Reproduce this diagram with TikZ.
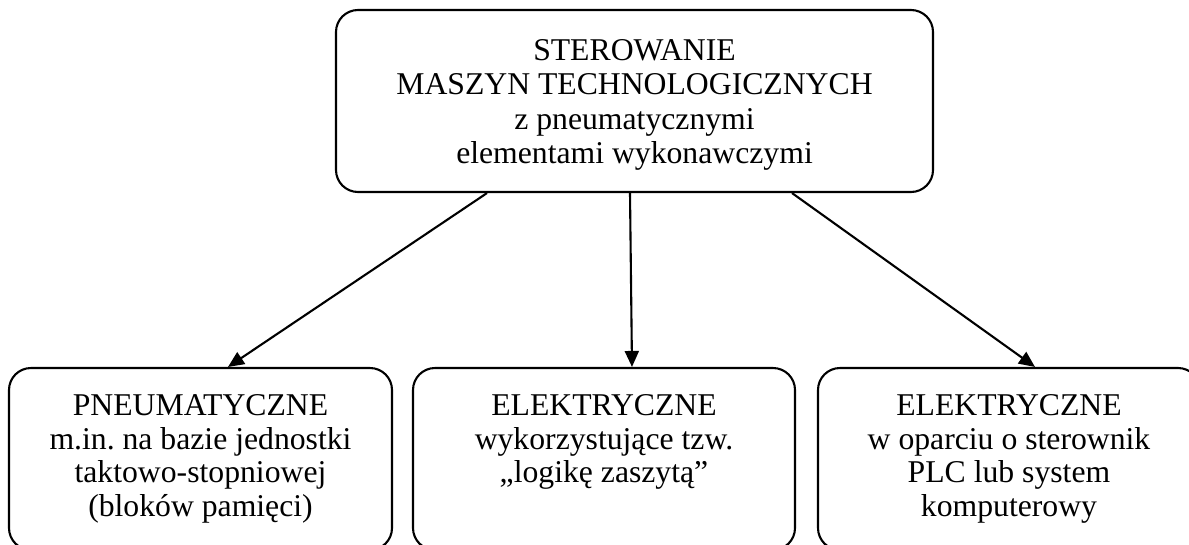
\documentclass[tikz,border=0pt]{standalone}
\usepackage{fontspec}
\setmainfont{Liberation Serif}
\usetikzlibrary{arrows.meta}
\frenchspacing
\tikzset{
  frame/.style={draw, line width=2.1pt, rounded corners=22pt, inner sep=0pt},
  box/.style={frame, align=center, font=\fontsize{31.7}{33.5}\selectfont,
    minimum width=382pt, minimum height=182pt},
  txt/.style={align=center, inner sep=0pt, font=\fontsize{31.7}{34.5}\selectfont},
  arr/.style={line width=2.1pt, -{Triangle[length=16pt,width=14pt]}}
}
\begin{document}
\begin{tikzpicture}[x=1pt,y=-1pt]
\useasboundingbox (0,0) rectangle (1189,544);
\clip (0,0) rectangle (1189,544);
\node[frame, minimum width=597pt, minimum height=182pt] (top) at (634.5,101) {};
\node[txt] (toptxt) at (634.5,105)
  {STEROWANIE\\MASZYN TECHNOLOGICZNYCH\\z pneumatycznymi\\elementami wykonawczymi};
\node[box, minimum width=383pt] (left) at (200.5,459)
  {PNEUMATYCZNE\\m.in. na bazie jednostki\\taktowo-stopniowej\\(bloków pamięci)};
\node[box] (mid) at (604,459)
  {ELEKTRYCZNE\\wykorzystujące tzw.\\„logikę zaszytą”\\\phantom{(p}};
\node[box] (right) at (1009,459)
  {ELEKTRYCZNE\\w oparciu o sterownik\\PLC lub system\\komputerowy};
\draw[arr] (top.south -| 487,0) -- (left.north -| 228,0);
\draw[arr] (top.south -| 630,0) -- (mid.north -| 632,0);
\draw[arr] (top.south -| 792,0) -- (right.north -| 1035,0);
\end{tikzpicture}
\end{document}
